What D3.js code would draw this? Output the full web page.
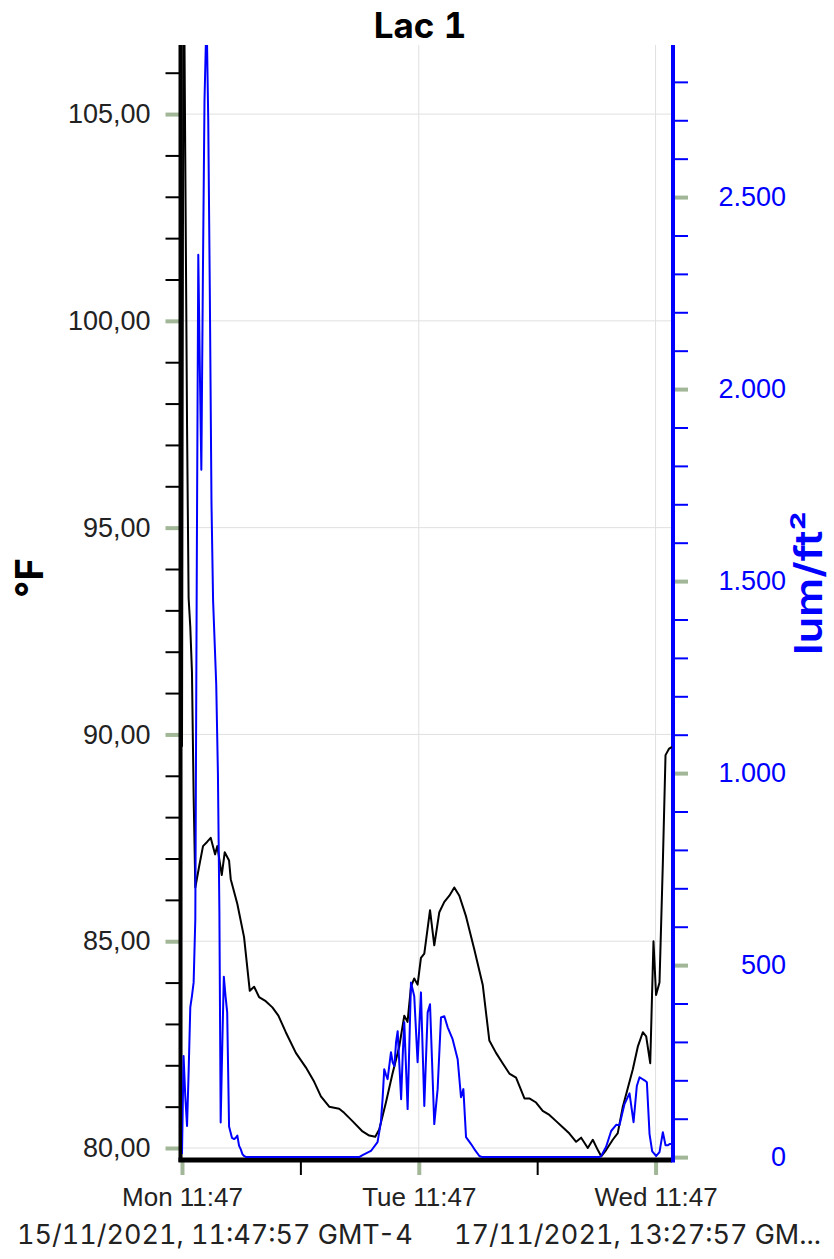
<!DOCTYPE html>
<html>
<head>
<meta charset="utf-8">
<script src="https://cdn.jsdelivr.net/npm/d3@7"></script>
<style>
  body { margin: 0; background: #fff; }
  svg { display: block; font-family: Inter, "Noto Sans", sans-serif; font-feature-settings: "tnum"; font-variant-numeric: tabular-nums; }
</style>
</head>
<body>
<svg id="chart"></svg>
<script>
const width = 834;
const height = 1259;

const startTime = new Date(2021, 10, 15, 11, 47, 57);
const endTime = new Date(2021, 10, 17, 13, 27, 57);
const startLabel = "15/11/2021, 11:47:57 GMT-4";
const endLabel = "17/11/2021, 13:27:57 GM...";

// temperature, hours after start -> °F
const tempHours = [0, 0.16, 0.33, 0.51, 0.67, 0.84, 1.01, 1.18, 1.35, 1.73, 2.13, 2.54, 2.91, 3.35, 3.58, 4.03, 4.33, 4.77, 4.94,
  5.61, 6.29, 6.87, 7.31, 7.81, 8.49, 9.16, 9.77, 10.52, 11.54, 12.55, 13.40, 14.08, 14.92, 15.93, 16.44, 17.28, 18.30, 18.98,
  19.59, 19.99, 20.67, 21.34, 22.02, 22.53, 22.86, 23.21, 23.54, 23.88, 24.22, 24.56, 25.14, 25.57, 26.08, 26.59, 27.10, 27.60,
  28.11, 28.79, 29.63, 30.48, 31.15, 31.83, 32.50, 33.18, 33.86, 34.71, 35.21, 35.89, 36.56, 37.24, 37.92, 38.59, 39.27, 39.95,
  40.46, 41.13, 41.64, 42.15, 42.49, 42.99, 43.66, 44.17, 44.68, 45.19, 45.69, 46.20, 46.71, 47.05, 47.46, 47.79, 48.05, 48.40,
  48.74, 49.01, 49.35, 49.67];
const tempValues = [89.7, 110, 104, 97.5, 93.3, 92.6, 91.5, 88.5, 86.3, 86.8, 87.3, 87.4, 87.5, 87.1, 87.3, 86.6, 87.15, 86.95, 86.5,
  85.9, 85.1, 83.8, 83.9, 83.65, 83.55, 83.4, 83.2, 82.8, 82.3, 81.95, 81.6, 81.25, 81.0, 80.95, 80.85, 80.65, 80.4, 80.3,
  80.27, 80.45, 81.1, 81.8, 82.45, 83.2, 83.05, 83.9, 84.1, 83.95, 84.6, 84.7, 85.75, 84.9, 85.7, 85.95, 86.1, 86.3,
  86.1, 85.6, 84.8, 83.95, 82.6, 82.3, 82.05, 81.8, 81.7, 81.2, 81.2, 81.1, 80.9, 80.8, 80.65, 80.5, 80.35, 80.15,
  80.25, 80.0, 80.2, 79.95, 79.8, 79.95, 80.2, 80.36, 81.0, 81.45, 81.9, 82.45, 82.8, 82.7, 82.05, 85.0, 83.7, 84.0,
  86.9, 89.5, 89.65, 89.7];

// illuminance, hours after start -> lum/ft²
const lightHours = [0, 0.16, 0.33, 0.51, 0.67, 0.84, 1.01, 1.18, 1.35, 1.51, 1.65, 1.81, 1.96, 2.12, 2.28, 2.49, 2.66, 2.82, 2.99,
  3.15, 3.31, 3.47, 3.64, 3.79, 3.92, 4.09, 4.24, 4.41, 4.58, 4.77, 4.92, 5.07, 5.28, 5.44, 5.61, 5.78, 5.96, 6.12, 6.29, 6.49,
  10, 15, 17.96, 18.30, 19.15, 19.82, 20.16, 20.33, 20.50, 20.67, 20.84, 21.18, 21.35, 21.53, 21.70, 21.86, 22.21, 22.37, 22.53,
  22.87, 23.21, 23.54, 23.88, 24.22, 24.56, 24.90, 25.14, 25.57, 25.91, 26.25, 26.59, 26.93, 27.43, 27.94, 28.28, 28.52, 28.79,
  29.30, 29.63, 30.14, 30.44, 35, 40, 42.32, 42.49, 42.99, 43.50, 44.01, 44.34, 44.85, 45.36, 45.77, 46.10, 46.38, 46.88, 47.12,
  47.39, 47.66, 48.07, 48.40, 48.74, 49.01, 49.25, 49.42, 49.67];
const lightValues = [8, 263, 160, 81, 220, 390, 420, 455, 620, 1600, 2350, 2050, 1790, 2300, 2750, 2980, 2700, 2250, 1700,
  1450, 1340, 1230, 1000, 640, 90, 300, 470, 420, 377, 80, 65, 50, 47, 50, 56, 30, 20, 8, 3, 0,
  0, 0, 0, 5, 16, 39, 91, 151, 229, 215, 203, 273, 247, 237, 300, 328, 151, 263, 351,
  125, 455, 419, 247, 429, 133, 377, 398, 86, 177, 364, 367, 338, 307, 255, 156, 177, 52,
  34, 21, 3, 0, 0, 0, 0, 3, 27, 68, 84, 83, 138, 166, 91, 185, 208, 200, 195,
  60, 15, 3, 13, 65, 31, 31, 34, 34];

const tempMajor = [80, 85, 90, 95, 100, 105];
const tempMinor = d3.range(80, 107, 1);
const lightMajor = [0, 500, 1000, 1500, 2000, 2500];
const lightMinor = d3.range(0, 2900, 100);
const timeMajorHours = [0, 24, 48];
const timeMinorHours = [12, 36];

const plot = { left: 182, right: 672, top: 45, bottom: 1160 };
const majorColor = "#a2b797";
const gridColor = "#e0e0e0";
const blue = "#0000ff";
const labelSize = 27;

const hourToDate = h => new Date(startTime.getTime() + h * 3600e3);

const x = d3.scaleTime().domain([startTime, endTime]).range([plot.left, plot.right]);
const yT = d3.scaleLinear().domain([79.71, 106.67]).range([plot.bottom, plot.top]);
const yL = d3.scaleLinear().domain([-7.5, 2896]).range([plot.bottom, plot.top]);

const svg = d3.select("#chart").attr("width", width).attr("height", height);

svg.append("defs").append("clipPath").attr("id", "clip")
  .append("rect")
    .attr("x", plot.left).attr("y", plot.top)
    .attr("width", plot.right - plot.left).attr("height", plot.bottom - plot.top);

// grid
svg.append("g").selectAll("line")
  .data(tempMajor)
  .join("line")
    .attr("x1", plot.left).attr("x2", plot.right)
    .attr("y1", d => yT(d)).attr("y2", d => yT(d))
    .attr("stroke", gridColor).attr("stroke-width", 1);
svg.append("g").selectAll("line")
  .data(timeMajorHours)
  .join("line")
    .attr("x1", d => x(hourToDate(d))).attr("x2", d => x(hourToDate(d)))
    .attr("y1", plot.top).attr("y2", plot.bottom)
    .attr("stroke", gridColor).attr("stroke-width", 1);

// left axis
const leftX = plot.left - 1.5;
svg.append("g")
    .attr("transform", `translate(${leftX},0)`)
    .call(d3.axisLeft(yT).tickValues(tempMinor.filter(v => !tempMajor.includes(v))).tickSize(15).tickFormat(""))
    .call(g => g.select(".domain").remove())
    .call(g => g.selectAll(".tick line").attr("stroke", "#000").attr("stroke-width", 2));
svg.append("g")
    .attr("transform", `translate(${leftX},0)`)
    .call(d3.axisLeft(yT).tickValues(tempMajor).tickSize(15).tickPadding(15)
      .tickFormat(d => d3.format(".2f")(d).replace(".", ",")))
    .call(g => g.select(".domain").remove())
    .call(g => g.selectAll(".tick line").attr("stroke", majorColor).attr("stroke-width", 4))
    .call(g => g.selectAll(".tick text").attr("font-size", labelSize).attr("fill", "#222"));

// right axis
const rightX = plot.right + 1;
svg.append("g")
    .attr("transform", `translate(${rightX},0)`)
    .call(d3.axisRight(yL).tickValues(lightMinor.filter(v => !lightMajor.includes(v))).tickSize(15).tickFormat(""))
    .call(g => g.select(".domain").remove())
    .call(g => g.selectAll(".tick line").attr("stroke", blue).attr("stroke-width", 2));
svg.append("g")
    .attr("transform", `translate(${rightX},0)`)
    .call(d3.axisRight(yL).tickValues(lightMajor).tickSize(15)
      .tickFormat(d => d3.format(",")(d).replace(",", ".")))
    .call(g => g.select(".domain").remove())
    .call(g => g.selectAll(".tick line").attr("stroke", majorColor).attr("stroke-width", 4))
    .call(g => g.selectAll(".tick text").attr("font-size", labelSize).attr("fill", blue)
      .attr("text-anchor", "end").attr("x", 786 - rightX));

// bottom axis
svg.append("g")
    .attr("transform", `translate(0,${plot.bottom})`)
    .call(d3.axisBottom(x).tickValues(timeMinorHours.map(hourToDate)).tickSize(15).tickFormat(""))
    .call(g => g.select(".domain").remove())
    .call(g => g.selectAll(".tick line").attr("stroke", "#000").attr("stroke-width", 2));
svg.append("g")
    .attr("transform", `translate(0,${plot.bottom})`)
    .call(d3.axisBottom(x).tickValues(timeMajorHours.map(hourToDate)).tickSize(15).tickPadding(13)
      .tickFormat(d3.timeFormat("%a %H:%M")))
    .call(g => g.select(".domain").remove())
    .call(g => g.selectAll(".tick line").attr("stroke", majorColor).attr("stroke-width", 4))
    .call(g => g.selectAll(".tick text").attr("font-size", labelSize - 1).attr("fill", "#222"));

// axis lines
svg.append("line")
    .attr("x1", leftX).attr("x2", leftX).attr("y1", plot.top).attr("y2", plot.bottom + 2)
    .attr("stroke", "#000").attr("stroke-width", 4);
svg.append("line")
    .attr("x1", leftX - 2).attr("x2", plot.right).attr("y1", plot.bottom).attr("y2", plot.bottom)
    .attr("stroke", "#000").attr("stroke-width", 5);
svg.append("line")
    .attr("x1", rightX).attr("x2", rightX).attr("y1", plot.top).attr("y2", plot.bottom + 2.5)
    .attr("stroke", blue).attr("stroke-width", 4);

// data lines, drawn over the axis lines
const lines = svg.append("g").attr("clip-path", "url(#clip)").attr("fill", "none");
lines.append("path")
    .datum(d3.zip(tempHours, tempValues))
    .attr("stroke", "#000").attr("stroke-width", 2).attr("stroke-linejoin", "round")
    .attr("d", d3.line().x(d => x(hourToDate(d[0]))).y(d => yT(d[1])));
lines.append("path")
    .datum(d3.zip(lightHours, lightValues))
    .attr("stroke", blue).attr("stroke-width", 2).attr("stroke-linejoin", "round")
    .attr("d", d3.line().x(d => x(hourToDate(d[0]))).y(d => yL(d[1])));

// range labels
svg.append("text")
    .attr("x", 17).attr("y", 1244)
    .attr("font-size", labelSize).attr("fill", "#222")
    .text(startLabel);
svg.append("text")
    .attr("x", 821).attr("y", 1244).attr("text-anchor", "end")
    .attr("font-size", labelSize).attr("fill", "#222")
    .text(endLabel);

// title and axis titles
svg.append("text")
    .attr("x", 420).attr("y", 38).attr("text-anchor", "middle")
    .attr("font-size", 35).attr("font-weight", "bold")
    .text("Lac 1");
svg.append("text")
    .attr("transform", "translate(43,578) rotate(-90)").attr("text-anchor", "middle")
    .attr("font-size", 38).attr("font-weight", "bold")
    .text("°F");
svg.append("text")
    .attr("transform", "translate(822,583) rotate(-90)").attr("text-anchor", "middle")
    .attr("font-size", 38).attr("font-weight", 600).attr("fill", blue)
    .attr("textLength", 144).attr("lengthAdjust", "spacingAndGlyphs")
    .text("lum/ft²");
</script>
</body>
</html>
